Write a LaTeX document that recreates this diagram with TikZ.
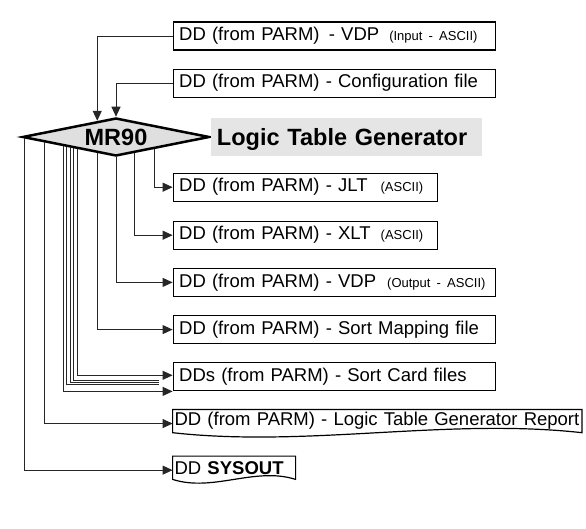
\documentclass[tikz,border=0pt]{standalone}
\usepackage{fontspec}
\setmainfont{Liberation Sans}
\usepackage{tikz}
\usetikzlibrary{arrows.meta, positioning, calc, shapes.geometric}

\newcommand{\ddfont}{\fontsize{18.5}{22}\selectfont}
\newcommand{\ddsmall}{\fontsize{13}{15}\selectfont}
\newcommand{\mrfont}{\fontsize{23.5}{28}\selectfont\bfseries}

\tikzset{
  ddbox/.style={draw, line width=1.2pt, rectangle, minimum height=28pt, inner xsep=6pt, inner ysep=0pt, align=left, font=\ddfont},
  widebox/.style={ddbox, text width=310pt},
  narrowbox/.style={ddbox, text width=252.6pt},
  docbox/.style={rectangle, outer sep=0pt, minimum height=23.3pt, inner xsep=2pt, inner ysep=0pt, align=left, font=\ddfont},
  docline/.style={line width=1.2pt},
  conn/.style={line width=0.9pt, black!85},
  feed/.style={conn, -{Triangle[length=10pt, width=9pt]}},
}

\begin{document}
\begin{tikzpicture}[node distance=18pt]
    \useasboundingbox (0,0) rectangle (586pt,-529pt);
    % inputs
    \node[widebox, anchor=west] (vdpin) at (172.6pt,-36pt) {DD (from PARM)\, - VDP\hspace{10pt}{\ddsmall(Input - ASCII)}};
    \node[widebox, below=of vdpin.south west, anchor=north west] (config) {DD (from PARM) - Configuration file};
    % program
    \node[diamond, draw, line width=2.5pt, fill=gray!25, aspect=4.92, minimum width=187pt, minimum height=38pt, inner sep=0pt, font=\mrfont] (mr90) at (116pt,-137pt) {MR90};
    \node[fill=gray!20, right=0.5pt of mr90.east, minimum height=38pt, text width=260pt, inner xsep=5.5pt, text depth=0pt, align=left, font=\mrfont] (ltg) {Logic Table Generator};
    % outputs
    \node[narrowbox, below=74.8pt of config.south west, anchor=north west] (jlt) {DD (from PARM) - JLT\hspace{13pt}{\ddsmall(ASCII)}};
    \node[narrowbox, below=18.8pt of jlt.south west, anchor=north west] (xlt) {DD (from PARM) - XLT\hspace{10pt}{\ddsmall(ASCII)}};
    \node[widebox, below=of xlt.south west, anchor=north west] (vdpout) {DD (from PARM) - VDP\hspace{11pt}{\ddsmall(Output - ASCII)}};
    \node[widebox, below=of vdpout.south west, anchor=north west] (sortmap) {DD (from PARM) - Sort Mapping file};
    \node[widebox, below=of sortmap.south west, anchor=north west] (sortcard) {DDs (from PARM) - Sort Card files};
    \node[docbox, text width=405.4pt, below=of sortcard.south west, anchor=north west] (report) {DD (from PARM) - Logic Table Generator Report};
    \node[docbox, text width=119pt, below=23.4pt of report.south west, anchor=north west] (sysout) {DD \textbf{SYSOUT}};
    \draw[docline] (report.south west) -- (report.north west) -- (report.north east) -- (report.south east)
        .. controls ($(report.south east)!0.33!(report.south west)+(0,15pt)$) and ($(report.south east)!0.67!(report.south west)+(0,-15pt)$) .. (report.south west) -- cycle;
    \draw[docline] (sysout.south west) -- (sysout.north west) -- (sysout.north east) -- (sysout.south east)
        .. controls ($(sysout.south east)!0.33!(sysout.south west)+(0,13pt)$) and ($(sysout.south east)!0.67!(sysout.south west)+(0,-13pt)$) .. (sysout.south west) -- cycle;
    % connectors
    \draw[feed] (vdpin.west) -| ($(mr90.north)!0.198!(mr90.west)$);
    \draw[feed] (config.west) -| (mr90.north);
    \draw[feed] ($(mr90.south)!0.404!(mr90.east)$) |- (jlt.west);
    \draw[feed] ($(mr90.south)!0.195!(mr90.east)$) |- (xlt.west);
    \draw[feed] (mr90.south) |- (vdpout.west);
    \draw[feed] ($(mr90.west)!0.803!(mr90.south)$) |- (sortmap.west);
    \draw[feed] ($(mr90.west)!0.596!(mr90.south)$) |- ([yshift=1.5pt]sortcard.west);
    \draw[conn] ($(mr90.west)!0.550!(mr90.south)$) |- ([xshift=-14pt, yshift=-3.5pt]sortcard.west);
    \draw[conn] ($(mr90.west)!0.515!(mr90.south)$) |- ([xshift=-14pt, yshift=-5.8pt]sortcard.west);
    \draw[conn] ($(mr90.west)!0.480!(mr90.south)$) |- ([xshift=-14pt, yshift=-7.8pt]sortcard.west);
    \draw[feed] ($(mr90.west)!0.444!(mr90.south)$) |- (sortcard.south west);
    \draw[feed] ($(mr90.west)!0.241!(mr90.south)$) |- ([yshift=-2.5pt]report.west);
    \draw[feed] ($(mr90.west)!0.036!(mr90.south)$) |- ([yshift=-2.4pt]sysout.west);
\end{tikzpicture}
\end{document}
